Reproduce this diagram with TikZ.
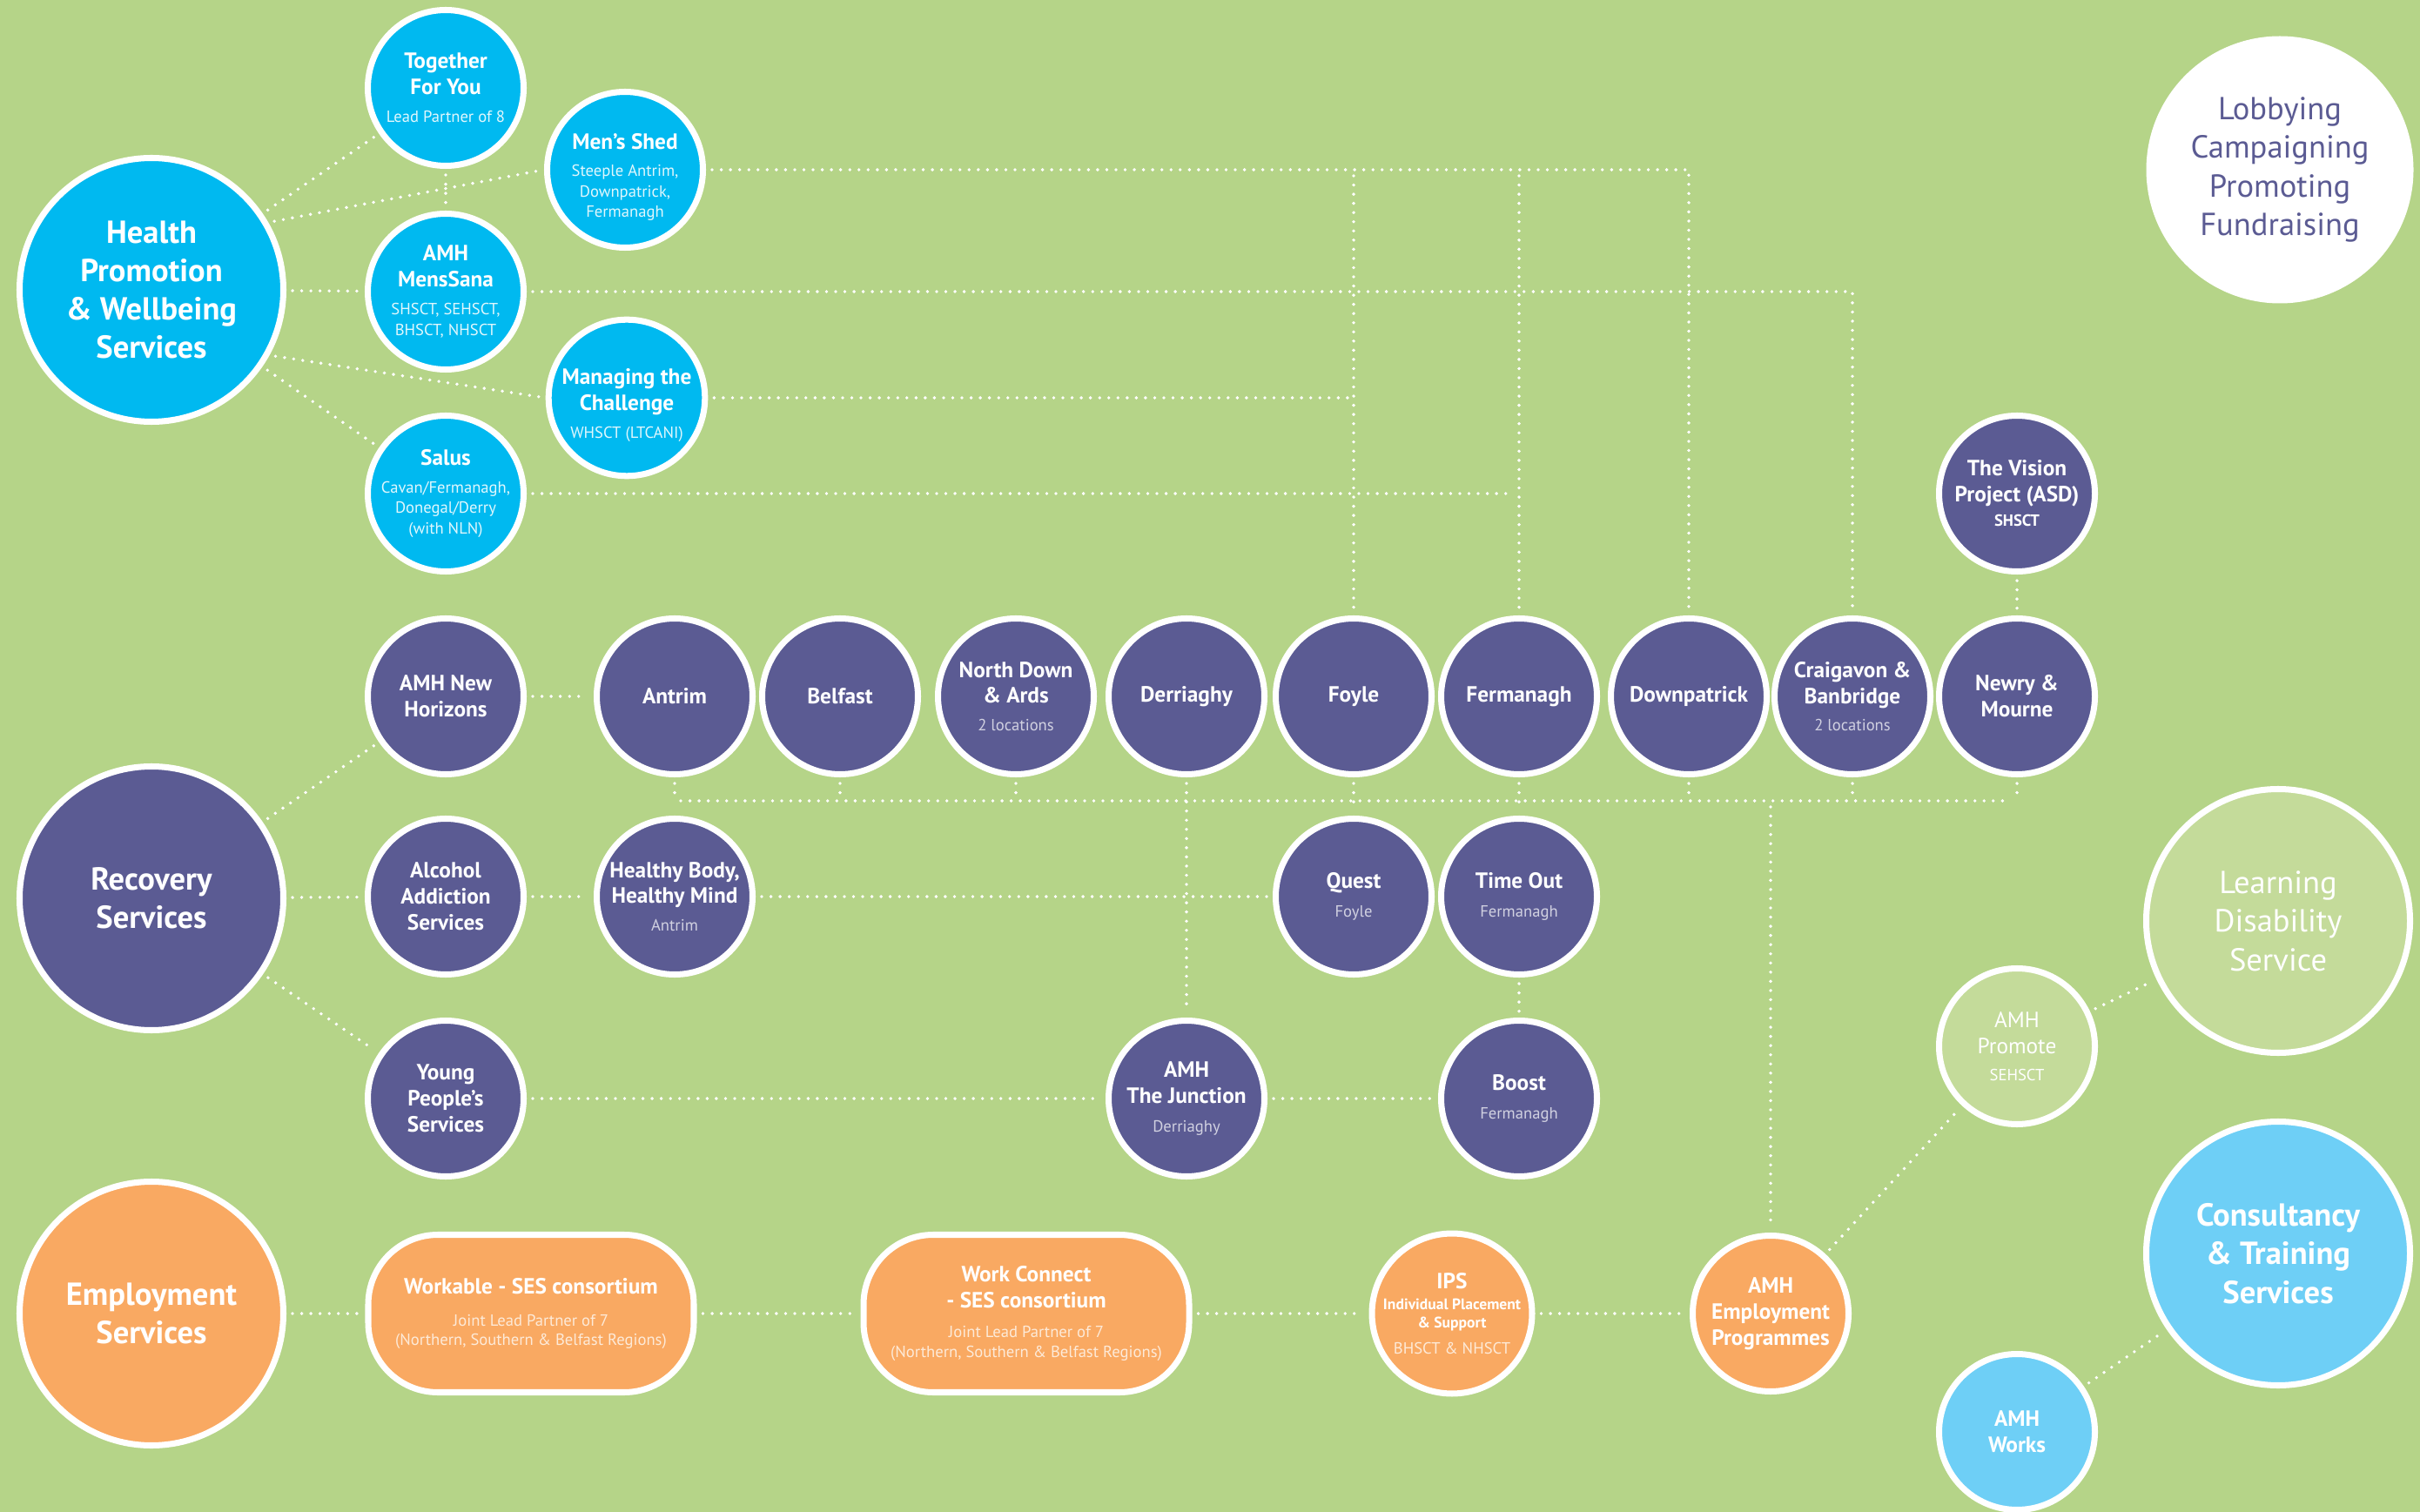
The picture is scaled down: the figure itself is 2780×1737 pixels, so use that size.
\documentclass[tikz,border=0pt]{standalone}
\usepackage{fontspec}
\setmainfont{PT Sans}
\definecolor{bg}{RGB}{181,212,136}
\definecolor{hpblue}{RGB}{0,185,240}
\definecolor{recpurple}{RGB}{91,91,147}
\definecolor{emporange}{RGB}{249,169,98}
\definecolor{ldgreen}{RGB}{196,219,154}
\definecolor{ctblue}{RGB}{110,207,246}
\colorlet{subc}{white}
\newcommand\subtxt[1]{{\fontsize{5.3}{6.4}\selectfont\mdseries\color{subc}#1}}
\newcommand\bigfont{\fontsize{10.4}{12.6}\selectfont}
\newcommand\smallfont{\fontsize{7.2}{8.5}\selectfont\bfseries}

\begin{document}
\begin{tikzpicture}[x=0.1mm,y=-0.1mm,
  every node/.style={align=center,text=white,inner sep=0pt},
  ring/.style={circle,draw=white,line width=2pt},
  bigring/.style={ring,minimum size=30.3mm,font=\bigfont\bfseries},
  smallring/.style={ring,minimum size=17.9mm,font=\smallfont},
  pill/.style={rectangle,rounded corners=8mm,draw=white,line width=2pt,
    minimum width=37.4mm,minimum height=18.1mm,font=\smallfont},
  hpnode/.style={fill=hpblue,execute at begin node={\colorlet{subc}{white!88!hpblue}}},
  recnode/.style={fill=recpurple,execute at begin node={\colorlet{subc}{white!72!recpurple}}},
  empnode/.style={fill=emporange,execute at begin node={\colorlet{subc}{white!75!emporange}}},
  link/.style={draw=white,line width=1.1pt,line cap=round,dash pattern=on 0pt off 3pt,
    shorten <=2pt,shorten >=2pt}]
  \useasboundingbox (0,0) rectangle (2780,1737);
  \fill[bg] (0,0) rectangle (2780,1737);

  \node[bigring,hpnode] (health) at (174,333) {Health\\Promotion\\\& Wellbeing\\Services};
  \node[bigring,recnode] (recovery) at (174,1032) {Recovery\\Services};
  \node[bigring,empnode] (employment) at (174,1509) {Employment\\Services};
  \node[circle,fill=white,minimum size=30.7mm,text=recpurple,font=\bigfont] (lobbying)
    at (2619,195) {Lobbying\\Campaigning\\Promoting\\Fundraising};
  \node[bigring,fill=ldgreen,font=\bigfont] (learning) at (2617,1058)
    {Learning\\Disability\\Service};
  \node[bigring,fill=ctblue] (consultancy) at (2617,1440) {Consultancy\\\& Training\\Services};

  \node[smallring,hpnode] (together) at (512,101)
    {Together\\For You\\[0.5pt]\subtxt{Lead Partner of 8}};
  \node[smallring,hpnode] (mensshed) at (718,195)
    {\rule{0pt}{10pt}Men’s Shed\\[0.5pt]\subtxt{Steeple Antrim,}\\[-1.8pt]\subtxt{Downpatrick,}\\[-1.8pt]\subtxt{Fermanagh}};
  \node[smallring,hpnode] (menssana) at (512,335)
    {AMH\\MensSana\\[0.5pt]\subtxt{SHSCT, SEHSCT,}\\[-1.8pt]\subtxt{BHSCT, NHSCT}};
  \node[smallring,hpnode] (managing) at (720,457)
    {\rule{0pt}{10pt}Managing the\\Challenge\\[0.5pt]\subtxt{WHSCT (LTCANI)}};
  \node[smallring,hpnode] (salus) at (512,567)
    {Salus\\[0.5pt]\subtxt{Cavan/Fermanagh,}\\[-1.8pt]\subtxt{Donegal/Derry}\\[-1.8pt]\subtxt{(with NLN)}};

  \node[smallring,recnode] (vision) at (2317,567)
    {The Vision\\Project (ASD)\\[-0.5pt]{\fontsize{5.3}{6.4}\selectfont SHSCT}};
  \node[smallring,recnode] (newhorizons) at (512,800) {AMH New\\Horizons};
  \node[smallring,recnode] (antrim) at (775,800) {Antrim};
  \node[smallring,recnode] (belfast) at (965,800) {Belfast};
  \node[smallring,recnode] (northdown) at (1167,800)
    {North Down\\\& Ards\\[0.5pt]\subtxt{2 locations}};
  \node[smallring,recnode] (derriaghy) at (1363,800) {Derriaghy};
  \node[smallring,recnode] (foyle) at (1555,800) {Foyle};
  \node[smallring,recnode] (fermanagh) at (1745,800) {Fermanagh};
  \node[smallring,recnode] (downpatrick) at (1940,800) {Downpatrick};
  \node[smallring,recnode] (craigavon) at (2128,800)
    {Craigavon \&\\Banbridge\\[0.5pt]\subtxt{2 locations}};
  \node[smallring,recnode] (newry) at (2317,800) {Newry \&\\Mourne};
  \node[smallring,recnode] (alcohol) at (512,1030) {Alcohol\\Addiction\\Services};
  \node[smallring,recnode] (healthybody) at (775,1030)
    {Healthy Body,\\Healthy Mind\\[0.5pt]\subtxt{Antrim}};
  \node[smallring,recnode] (quest) at (1555,1030) {Quest\\[1pt]\subtxt{Foyle}};
  \node[smallring,recnode] (timeout) at (1745,1030) {Time Out\\[1pt]\subtxt{Fermanagh}};
  \node[smallring,recnode] (young) at (512,1262) {Young\\People’s\\Services};
  \node[smallring,recnode] (junction) at (1363,1262)
    {AMH\\The Junction\\[1pt]\subtxt{Derriaghy}};
  \node[smallring,recnode] (boost) at (1745,1262) {Boost\\[1pt]\subtxt{Fermanagh}};

  \node[smallring,fill=ldgreen,font=\fontsize{7.2}{8.5}\selectfont] (promote) at (2317,1202)
    {AMH\\Promote\\[0.5pt]\subtxt{SEHSCT}};
  \node[smallring,fill=ctblue] (works) at (2317,1645) {AMH\\Works};

  \node[pill,empnode] (workable) at (610,1509)
    {Workable - SES consortium\\[2pt]\subtxt{Joint Lead Partner of 7}\\[-2.4pt]\subtxt{(Northern, Southern \& Belfast Regions)}};
  \node[pill,empnode] (workconnect) at (1179,1509)
    {Work Connect\\- SES consortium\\[1pt]\subtxt{Joint Lead Partner of 7}\\[-2pt]\subtxt{(Northern, Southern \& Belfast Regions)}};
  \node[smallring,empnode] (ips) at (1668,1509)
    {IPS\\[-1.5pt]{\fontsize{5}{6}\selectfont Individual Placement}\\[-2.5pt]{\fontsize{5}{6}\selectfont\& Support}\\[0pt]\subtxt{BHSCT \& NHSCT}};
  \node[smallring,empnode] (amhemp) at (2034,1509) {AMH\\Employment\\Programmes};

  \coordinate (bus) at (0,920);

  \draw[link] (health) -- (together);
  \draw[link] (health.30) -- (mensshed.west);
  \draw[link] (together) -- (menssana);
  \draw[link] (health) -- (menssana);
  \draw[link] (health.-29) -- (managing.west);
  \draw[link] (health) -- (salus);
  \draw[link] (mensshed) -- (downpatrick |- mensshed) -- (downpatrick);
  \draw[link] (foyle |- mensshed) -- (foyle);
  \draw[link] (fermanagh |- mensshed) -- (fermanagh);
  \draw[link] (menssana) -- (craigavon |- menssana) -- (craigavon);
  \draw[link] (managing) -- (foyle |- managing);
  \draw[link] (salus) -- (fermanagh |- salus);

  \draw[link] (recovery) -- (newhorizons);
  \draw[link] (recovery) -- (alcohol);
  \draw[link] (recovery) -- (young);
  \draw[link] (newhorizons) -- (antrim);
  \draw[link] (alcohol) -- (healthybody);
  \draw[link] (healthybody) -- (quest);
  \draw[link] (young) -- (junction);
  \draw[link] (junction) -- (boost);
  \draw[link] (derriaghy) -- (junction);
  \draw[link] (foyle) -- (quest);
  \draw[link] (fermanagh) -- (timeout);
  \draw[link] (timeout) -- (boost);
  \draw[link] (vision) -- (newry);
  \draw[link] (antrim |- bus) -- (newry |- bus);
  \draw[link] (antrim) -- (antrim |- bus);
  \draw[link] (belfast) -- (belfast |- bus);
  \draw[link] (northdown) -- (northdown |- bus);
  \draw[link] (downpatrick) -- (downpatrick |- bus);
  \draw[link] (craigavon) -- (craigavon |- bus);
  \draw[link] (newry) -- (newry |- bus);
  \draw[link] (amhemp |- bus) -- (amhemp);

  \draw[link] (employment) -- (workable);
  \draw[link] (workable) -- (workconnect);
  \draw[link] (workconnect) -- (ips);
  \draw[link] (ips) -- (amhemp);
  \draw[link] (amhemp) -- (promote);
  \draw[link] (promote) -- (learning);
  \draw[link] (works) -- (consultancy);
\end{tikzpicture}
\end{document}
